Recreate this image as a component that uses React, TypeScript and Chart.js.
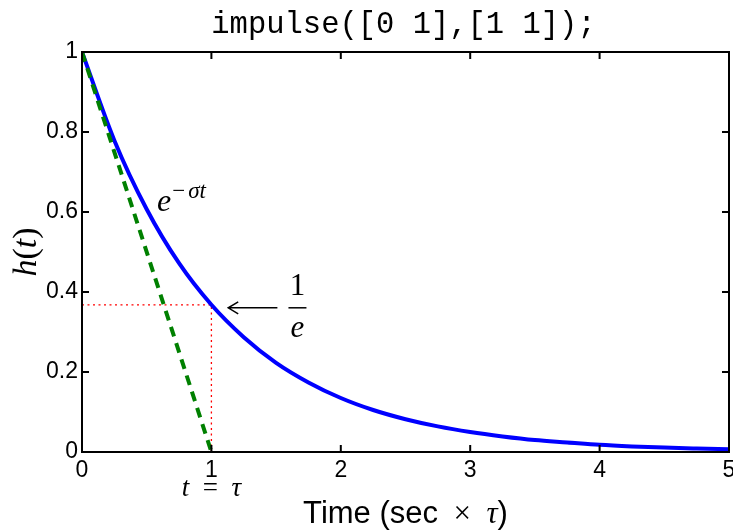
import React, { useEffect, useRef } from "react";
import { Chart, registerables } from "chart.js";

Chart.register(...registerables);

// Impulse response of 1/(s+1): time axis in units of tau
const timeValues = [0, 0.25, 0.5, 0.75, 1, 1.25, 1.5, 1.75, 2, 2.25, 2.5, 2.75, 3, 3.25, 3.5, 3.75, 4, 4.25, 4.5, 4.75, 5];
const responseValues = [1, 0.779, 0.607, 0.472, 0.368, 0.287, 0.223, 0.174, 0.135, 0.105, 0.082, 0.064, 0.05, 0.039, 0.03, 0.024, 0.018, 0.014, 0.011, 0.0087, 0.0067];

// Initial-slope tangent line
const tangentTime = [0, 1];
const tangentValues = [1, 0];

// 1/e level and the time it is reached
const invE = 0.368;
const tauTime = 1;

const xTicks = [0, 1, 2, 3, 4, 5];
const yTicks = [0, 0.2, 0.4, 0.6, 0.8, 1];

const titleText = "impulse([0 1],[1 1]);";

const SERIF = '"Liberation Serif", "DejaVu Serif", serif';
const SANS = '"Liberation Sans", Arial, sans-serif';
const MONO = '"Liberation Mono", "Courier New", monospace';

type Run = [string, string];

function drawRuns(ctx: CanvasRenderingContext2D, runs: Run[], cx: number, y: number) {
  let total = 0;
  const widths = runs.map(([t, f]) => {
    ctx.font = f;
    const w = ctx.measureText(t).width;
    total += w;
    return w;
  });
  let x = cx - total / 2;
  ctx.textAlign = "left";
  runs.forEach(([t, f], i) => {
    ctx.font = f;
    ctx.fillText(t, x, y);
    x += widths[i];
  });
}

const decorations = {
  id: "decorations",
  afterDraw(chart: any) {
    const ctx: CanvasRenderingContext2D = chart.ctx;
    const { left, right, top, bottom } = chart.chartArea;
    const xs = chart.scales.x;
    const ys = chart.scales.y;
    ctx.save();

    // box frame with inward tick marks
    ctx.strokeStyle = "#000";
    ctx.lineWidth = 2;
    ctx.strokeRect(left, top, right - left, bottom - top);
    const tl = 7;
    ctx.beginPath();
    xTicks.forEach((v) => {
      const px = xs.getPixelForValue(v);
      ctx.moveTo(px, bottom);
      ctx.lineTo(px, bottom - tl);
      ctx.moveTo(px, top);
      ctx.lineTo(px, top + tl);
    });
    yTicks.forEach((v) => {
      const py = ys.getPixelForValue(v);
      ctx.moveTo(left, py);
      ctx.lineTo(left + tl, py);
      ctx.moveTo(right, py);
      ctx.lineTo(right - tl, py);
    });
    ctx.stroke();

    ctx.fillStyle = "#000";
    ctx.textBaseline = "alphabetic";

    // title
    ctx.font = `30.5px ${MONO}`;
    ctx.textAlign = "center";
    ctx.fillText(titleText, (left + right) / 2 - 2, 33);

    // x axis title
    drawRuns(
      ctx,
      [
        ["Time (sec", `31px ${SANS}`],
        ["\u2002\u00d7\u2002", `31px ${SERIF}`],
        ["\u03c4", `italic 31px ${SERIF}`],
        [")", `31px ${SANS}`],
      ],
      (left + right) / 2,
      523
    );

    // y axis title
    ctx.save();
    ctx.translate(36, (top + bottom) / 2);
    ctx.rotate(-Math.PI / 2);
    drawRuns(
      ctx,
      [
        ["h", `italic 34px ${SERIF}`],
        ["(", `34px ${SERIF}`],
        ["t", `italic 34px ${SERIF}`],
        [")", `34px ${SERIF}`],
      ],
      0,
      0
    );
    ctx.restore();

    // t = tau under the tick at tau
    drawRuns(
      ctx,
      [
        ["t", `italic 27px ${SERIF}`],
        ["\u2002=\u2002", `27px ${SERIF}`],
        ["\u03c4", `italic 27px ${SERIF}`],
      ],
      xs.getPixelForValue(tauTime),
      bottom + 44
    );

    // e^{-sigma t} label
    const ex = xs.getPixelForValue(0.58);
    const ey = ys.getPixelForValue(0.602);
    ctx.textAlign = "left";
    ctx.font = `italic 32px ${SERIF}`;
    ctx.fillText("e", ex, ey);
    let sx = ex + ctx.measureText("e").width + 1;
    ctx.font = `23px ${SERIF}`;
    ctx.fillText("\u2212", sx, ey - 13);
    sx += ctx.measureText("\u2212").width + 3;
    ctx.font = `italic 23px ${SERIF}`;
    ctx.fillText("\u03c3t", sx, ey - 13);

    // arrow pointing at the 1/e crossing
    const ay = ys.getPixelForValue(invE) + 3;
    const tipX = xs.getPixelForValue(1.13);
    const tailX = xs.getPixelForValue(1.51);
    ctx.lineWidth = 1.5;
    ctx.beginPath();
    ctx.moveTo(tailX, ay);
    ctx.lineTo(tipX, ay);
    ctx.moveTo(tipX + 10, ay - 6);
    ctx.lineTo(tipX, ay);
    ctx.lineTo(tipX + 10, ay + 6);
    ctx.stroke();

    // 1/e fraction
    const fx = xs.getPixelForValue(1.665);
    ctx.textAlign = "center";
    ctx.font = `31px ${SERIF}`;
    ctx.fillText("1", fx, ay - 13);
    ctx.beginPath();
    ctx.moveTo(fx - 9, ay);
    ctx.lineTo(fx + 9, ay);
    ctx.stroke();
    ctx.font = `italic 31px ${SERIF}`;
    ctx.fillText("e", fx, ay + 29);

    ctx.restore();
  },
};

export default function App() {
  const canvasRef = useRef<HTMLCanvasElement | null>(null);

  useEffect(() => {
    const canvas = canvasRef.current;
    if (!canvas) return;

    const curve = timeValues.map((t, i) => ({ x: t, y: responseValues[i] }));
    const tangent = tangentTime.map((t, i) => ({ x: t, y: tangentValues[i] }));
    const levelLine = [
      { x: 0, y: invE },
      { x: tauTime, y: invE },
    ];
    const dropLine = [
      { x: tauTime, y: 0 },
      { x: tauTime, y: invE },
    ];

    const chart = new Chart(canvas, {
      type: "line",
      data: {
        datasets: [
          {
            data: tangent,
            borderColor: "#008000",
            borderWidth: 4,
            borderDash: [10, 7],
            pointRadius: 0,
            tension: 0,
          },
          {
            data: curve,
            borderColor: "#0000ff",
            borderWidth: 4,
            pointRadius: 0,
            cubicInterpolationMode: "monotone",
          },
          {
            data: levelLine,
            borderColor: "#ff0000",
            borderWidth: 1.3,
            borderDash: [2, 3.5],
            pointRadius: 0,
          },
          {
            data: dropLine,
            borderColor: "#ff0000",
            borderWidth: 1.3,
            borderDash: [2, 3.5],
            pointRadius: 0,
          },
        ],
      },
      options: {
        responsive: false,
        animation: false,
        events: [],
        layout: { autoPadding: false, padding: { left: 0, right: 4, top: 52, bottom: 0 } },
        plugins: {
          legend: { display: false },
          tooltip: { enabled: false },
          title: { display: false },
        },
        scales: {
          x: {
            type: "linear",
            min: 0,
            max: 5,
            afterBuildTicks: (scale: any) => {
              scale.ticks = xTicks.map((v) => ({ value: v }));
            },
            afterFit: (scale: any) => {
              scale.height = 79;
              scale.paddingLeft = 0;
              scale.paddingRight = 0;
            },
            grid: { display: false, drawTicks: false },
            border: { display: false },
            ticks: {
              color: "#000",
              font: { family: SANS, size: 23 },
              padding: 5,
              maxRotation: 0,
              autoSkip: false,
            },
          },
          y: {
            type: "linear",
            min: 0,
            max: 1,
            afterBuildTicks: (scale: any) => {
              scale.ticks = yTicks.map((v) => ({ value: v }));
            },
            afterFit: (scale: any) => {
              scale.width = 82;
              scale.paddingTop = 0;
              scale.paddingBottom = 0;
            },
            grid: { display: false, drawTicks: false },
            border: { display: false },
            ticks: {
              color: "#000",
              font: { family: SANS, size: 23 },
              padding: 4,
              autoSkip: false,
              callback: (v: any) => String(Number(Number(v).toFixed(1))),
            },
          },
        },
      },
      plugins: [decorations],
    });

    return () => chart.destroy();
  }, []);

  return (
    <div style={{ position: "absolute", left: 0, top: 0, width: 733, height: 531, background: "#fff" }}>
      <canvas ref={canvasRef} width={733} height={531} style={{ display: "block" }} />
    </div>
  );
}
